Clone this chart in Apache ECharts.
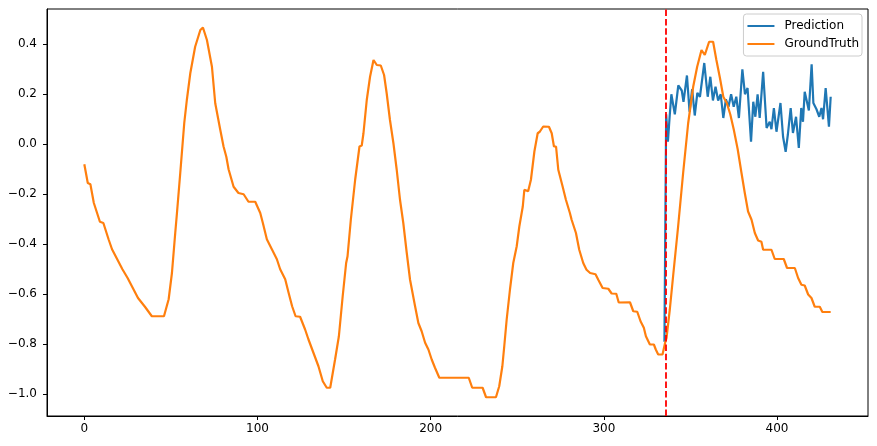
<!DOCTYPE html>
<html>
<head>
<meta charset="utf-8">
<script src="https://cdn.jsdelivr.net/npm/echarts@6/dist/echarts.min.js"></script>
<style>
  html, body { margin: 0; padding: 0; background: #fff; }
  #chart { width: 877px; height: 446px; }
</style>
</head>
<body>
<div id="chart"></div>
<script>
// [step, value] pairs
var groundTruth = [
    [0, -0.08], [2, -0.155], [3.5, -0.16], [5.5, -0.235], [9, -0.31], [11, -0.315],
    [14, -0.38], [16, -0.42], [19, -0.46], [22, -0.50], [25, -0.535], [28, -0.575],
    [31, -0.615], [35, -0.65], [39, -0.688], [46, -0.688], [48.7, -0.62], [50.6, -0.515],
    [52.5, -0.355], [53.5, -0.275], [55.4, -0.115], [57.7, 0.084], [59.2, 0.177], [61.2, 0.284],
    [64, 0.39], [67, 0.457], [68.5, 0.467], [70.8, 0.417], [73.7, 0.31], [75.6, 0.164],
    [78.5, 0.058], [80.4, -0.009], [82, -0.05], [83.3, -0.10], [86.2, -0.17], [89, -0.195],
    [92, -0.20], [94.8, -0.23], [98.7, -0.23], [101.6, -0.275], [103.1, -0.315], [105.4, -0.38],
    [108.3, -0.42], [111.2, -0.46], [113.1, -0.50], [116, -0.54], [118, -0.595], [120, -0.648],
    [122, -0.688], [124.6, -0.69], [127.5, -0.741], [129.4, -0.78], [132.3, -0.834], [135.2, -0.888],
    [137.7, -0.948], [140, -0.974], [142, -0.974], [144.8, -0.861], [147, -0.768], [149.2, -0.608],
    [151.2, -0.475], [152, -0.448], [153.9, -0.302], [156.4, -0.142], [158.9, -0.009], [160.2, -0.005],
    [161.2, 0.044], [163.1, 0.177], [165, 0.27], [167, 0.337], [168.9, 0.317], [171.2, 0.315],
    [173.1, 0.277], [174.6, 0.204], [176.5, 0.097], [178.5, 0.004], [180.4, -0.102], [182.3, -0.222],
    [184.2, -0.315], [186.2, -0.435], [188.1, -0.542], [191, -0.648], [192.9, -0.715], [194.8, -0.748],
    [196.8, -0.794], [198.7, -0.821], [200.6, -0.861], [202.5, -0.894], [205, -0.934], [222, -0.934],
    [224, -0.974], [230, -0.974], [232, -1.012], [237.7, -1.012], [239.6, -0.968], [241.4, -0.888],
    [242.5, -0.808], [243.9, -0.701], [245.8, -0.581], [247.7, -0.475], [249.7, -0.408], [251.2, -0.329],
    [253.2, -0.249], [254.1, -0.182], [256.3, -0.188], [257.9, -0.142], [259.9, -0.029], [261.8, 0.044],
    [263, 0.05], [265, 0.071], [268.3, 0.07], [269.9, 0.044], [271.2, -0.009], [272.4, -0.009],
    [273.7, -0.102], [276.2, -0.169], [278.1, -0.222], [280.4, -0.275], [281.4, -0.302], [283.9, -0.355],
    [285.8, -0.422], [288.1, -0.475], [290, -0.502], [292.1, -0.515], [295.2, -0.52], [296.8, -0.542],
    [299.3, -0.575], [302.6, -0.578], [304.5, -0.597], [307.2, -0.598], [308.6, -0.633], [315.1, -0.632],
    [317, -0.668], [319.3, -0.67], [321.2, -0.708], [323.1, -0.734], [324.3, -0.768], [326.6, -0.801],
    [328.9, -0.801], [330, -0.821], [331.4, -0.841], [333.9, -0.841], [335.4, -0.794], [336.2, -0.775],
    [338.1, -0.661], [340, -0.528], [342.9, -0.329], [345.8, -0.115], [348.7, 0.084], [351.6, 0.23],
    [353.9, 0.31], [356.4, 0.377], [358.3, 0.357], [360.8, 0.41], [363.1, 0.41], [365, 0.337],
    [367, 0.267], [369, 0.19], [371, 0.165], [373, 0.12], [375, 0.06], [377.3, -0.02],
    [379.5, -0.115], [381.4, -0.195], [383.3, -0.269], [385.3, -0.302], [387.2, -0.355], [389.1, -0.385],
    [391, -0.39], [392, -0.422], [396.8, -0.422], [398.7, -0.459], [403.9, -0.459], [405.8, -0.495],
    [410.3, -0.495], [412.2, -0.535], [414.1, -0.562], [416, -0.565], [418, -0.601], [419.9, -0.615],
    [421.8, -0.65], [424.7, -0.65], [426.2, -0.671], [431, -0.671]
];

var prediction = [
    [335, -0.79], [336, 0.12], [337, 0.01], [338, 0.11], [339, 0.20], [341, 0.12],
    [343, 0.235], [345, 0.215], [346, 0.17], [348, 0.275], [349.5, 0.13], [351, 0.22],
    [352.5, 0.115], [354, 0.205], [355.5, 0.19], [358, 0.325], [360, 0.19], [361.5, 0.27],
    [363, 0.175], [364.5, 0.23], [366, 0.175], [367.5, 0.2], [369, 0.105], [370.5, 0.18],
    [372, 0.15], [373.5, 0.2], [375, 0.15], [376.5, 0.19], [378, 0.105], [380, 0.30],
    [381.5, 0.2], [383, 0.225], [385, 0.01], [386.3, 0.17], [387.5, 0.11], [388.8, 0.2],
    [390, 0.105], [392, 0.29], [394, 0.065], [395.8, 0.09], [396.8, 0.06], [398.2, 0.145],
    [399.7, 0.05], [402, 0.165], [403.5, 0.03], [405, -0.03], [406.3, 0.04], [407.9, 0.145],
    [409.2, 0.045], [411, 0.11], [412.6, -0.015], [414, 0.145], [415, 0.09], [416, 0.21],
    [418.4, 0.135], [420, 0.32], [421, 0.165], [422.8, 0.14], [424.4, 0.11], [425.7, 0.145],
    [426.6, 0.10], [428.1, 0.225], [430, 0.07], [431, 0.19]
];

var splitAt = 336;
var xTicks = [0, 100, 200, 300, 400];
var yTicks = [-1.0, -0.8, -0.6, -0.4, -0.2, 0.0, 0.2, 0.4];

var font = 'DejaVu Sans';

function fmtY(v) {
    var s = Math.abs(v).toFixed(1);
    return (v < -1e-9 ? '\u2212' : '') + s;
}

var chart = echarts.init(document.getElementById('chart'), null, {renderer: 'canvas'});
chart.setOption({
    animation: false,
    backgroundColor: '#fff',
    grid: {
        left: 47, right: 9, top: 9, bottom: 30,
        show: true,
        borderColor: '#000',
        borderWidth: 1,
        backgroundColor: 'transparent'
    },
    legend: {
        orient: 'vertical',
        right: 15,
        top: 14,
        padding: [5, 3, 5, 4],
        icon: 'rect',
        itemWidth: 27,
        itemHeight: 2,
        itemGap: 4,
        borderColor: '#cccccc',
        borderWidth: 1,
        borderRadius: 3,
        backgroundColor: 'rgba(255,255,255,0.8)',
        textStyle: {fontFamily: font, fontSize: 12, lineHeight: 14, color: '#000', padding: [0, 0, 0, 5]},
        data: ['Prediction', 'GroundTruth']
    },
    xAxis: {
        type: 'value',
        min: -21.55,
        max: 452.55,
        splitLine: {show: false},
        axisLine: {show: true, onZero: false, lineStyle: {color: '#000', width: 1}},
        axisTick: {show: true, length: 4, lineStyle: {color: '#000', width: 1}, customValues: xTicks},
        axisLabel: {
            fontFamily: font, fontSize: 12, color: '#000', margin: 7,
            customValues: xTicks,
            formatter: function (v) { return String(v); }
        }
    },
    yAxis: {
        type: 'value',
        min: -1.087,
        max: 0.541,
        splitLine: {show: false},
        axisLine: {show: true, onZero: false, lineStyle: {color: '#000', width: 1}},
        axisTick: {show: true, length: 4, lineStyle: {color: '#000', width: 1}, customValues: yTicks},
        axisLabel: {
            fontFamily: font, fontSize: 12, color: '#000', margin: 10,
            customValues: yTicks,
            formatter: fmtY
        }
    },
    series: [
        {
            name: 'Prediction',
            type: 'line',
            symbol: 'none',
            color: '#1f77b4',
            lineStyle: {width: 2.2, color: '#1f77b4'},
            data: prediction,
            z: 2
        },
        {
            name: 'GroundTruth',
            type: 'line',
            symbol: 'none',
            color: '#ff7f0e',
            lineStyle: {width: 2.2, color: '#ff7f0e'},
            data: groundTruth,
            z: 3,
            markLine: {
                silent: true,
                symbol: 'none',
                label: {show: false},
                lineStyle: {color: '#ff0000', width: 1.8, type: [6.5, 2.8]},
                data: [{xAxis: splitAt}]
            }
        }
    ]
});
</script>
</body>
</html>
